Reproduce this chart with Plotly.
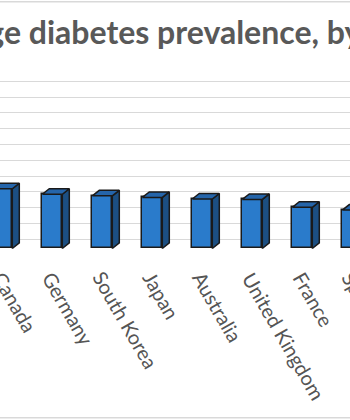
import plotly.graph_objects as go

# ---- data ----
countries = ["Canada", "Germany", "South Korea", "Japan", "Australia",
             "United Kingdom", "France", "Spain"]
prevalence = [7.1, 6.4, 6.2, 6.0, 5.8, 5.75, 4.75, 4.4]
title_text = "Average diabetes prevalence, by country"

# ---- styling / 3D geometry constants ----
W, H = 350, 420
FRONT = "#2A7BCB"
SIDE = "#1C4F82"
TOP = "#2565AA"
EDGE = "#1a1a1a"
FLOOR = -1.16      # front base of the 3D bars (axis units)
DEPTH_Y = 0.7      # vertical depth offset (axis units)
DEPTH_X = 0.14     # horizontal depth offset (category units)
HALF = 0.2         # half width of front face (category units)

x0, x1 = -0.046, 6.954
y0, y1 = -22.87, 30.29

fig = go.Figure()
xs = list(range(len(countries)))

# front faces
fig.add_trace(go.Bar(
    x=xs, y=[v - DEPTH_Y - FLOOR for v in prevalence], base=FLOOR,
    width=2 * HALF, marker=dict(color=FRONT, line=dict(color=EDGE, width=1.5)),
    hoverinfo="skip", showlegend=False))

# side and top faces
for i, v in zip(xs, prevalence):
    ft = v - DEPTH_Y
    sx = [i + HALF, i + HALF + DEPTH_X, i + HALF + DEPTH_X, i + HALF, i + HALF]
    sy = [FLOOR, FLOOR + DEPTH_Y, v, ft, FLOOR]
    fig.add_trace(go.Scatter(x=sx, y=sy, fill="toself", fillcolor=SIDE, mode="lines",
                             line=dict(color=EDGE, width=1.5), hoverinfo="skip",
                             showlegend=False))
    tx = [i - HALF, i + HALF, i + HALF + DEPTH_X, i - HALF + DEPTH_X, i - HALF]
    ty = [ft, ft, v, v, ft]
    fig.add_trace(go.Scatter(x=tx, y=ty, fill="toself", fillcolor=TOP, mode="lines",
                             line=dict(color=EDGE, width=1.5), hoverinfo="skip",
                             showlegend=False))

# category labels (rotated)
for i, name in enumerate(countries):
    fig.add_annotation(text=name, xref="paper", yref="paper",
                       x=(i - x0) / (x1 - x0), y=1 - 265 / H, xshift=-17,
                       xanchor="left", yanchor="top", textangle=60, showarrow=False,
                       font=dict(family="Lato", size=20, color="#555555"))

# title
fig.add_annotation(text="<b>" + title_text + "</b>", xref="paper", yref="paper",
                   x=191 / W, y=1 - 32 / H, xanchor="center", yanchor="middle",
                   showarrow=False, font=dict(family="Lato", size=32, color="#595959"))

# chart area border lines (top and bottom visible)
for py in (1.7, 417.7):
    fig.add_shape(type="line", xref="paper", yref="paper", x0=-0.1, x1=1.1,
                  y0=1 - py / H, y1=1 - py / H, line=dict(color="#D9D9D9", width=1.5))

fig.update_layout(
    width=W, height=H, margin=dict(l=0, r=0, t=0, b=0),
    paper_bgcolor="white", plot_bgcolor="white", bargap=0,
    xaxis=dict(range=[x0, x1], showgrid=False, zeroline=False, showticklabels=False,
               ticks=""),
    yaxis=dict(range=[y0, y1], tickvals=list(range(0, 21, 2)), showgrid=True,
               gridcolor="#D9D9D9", gridwidth=1.3, zeroline=False, showticklabels=False,
               ticks=""),
)

fig.write_html("out.html")
